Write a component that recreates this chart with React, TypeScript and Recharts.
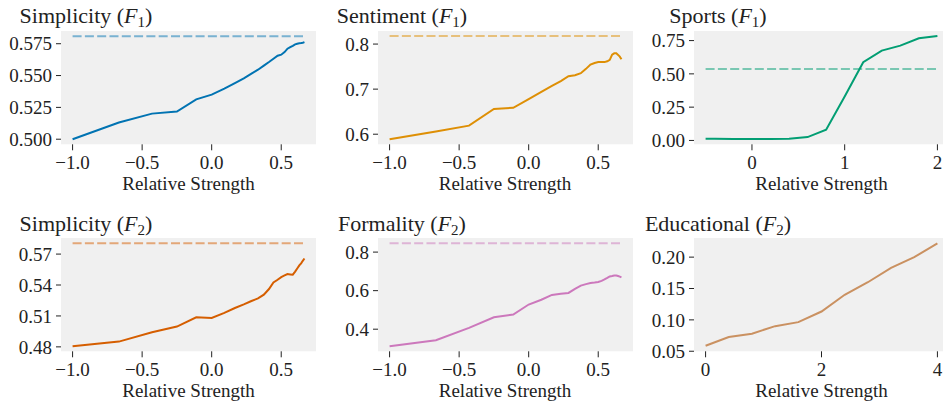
import React from "react";
import { LineChart, Line, XAxis, YAxis, CartesianGrid } from "recharts";

// relative strengths shared by the first five panels
const strengths = [
  -1, -0.667, -0.429, -0.25, -0.111, 0, 0.091, 0.167, 0.231, 0.286, 0.333, 0.375, 0.412,
  0.444, 0.474, 0.5, 0.524, 0.545, 0.565, 0.583, 0.6, 0.615, 0.63, 0.643, 0.655, 0.667,
];

const simplicityF1 = [
  0.5, 0.5131, 0.5201, 0.5217, 0.5313, 0.535, 0.5397, 0.5441, 0.5478, 0.5515, 0.5546, 0.5578,
  0.5606, 0.5632, 0.5656, 0.5664, 0.5684, 0.5711, 0.5723, 0.5734, 0.5745, 0.575, 0.5753,
  0.5755, 0.5758, 0.5763,
];
const sentimentF1 = [
  0.589, 0.606, 0.619, 0.6559, 0.6587, 0.678, 0.694, 0.707, 0.718, 0.7287, 0.731, 0.7353,
  0.745, 0.7545, 0.758, 0.7603, 0.76, 0.76, 0.7618, 0.765, 0.7766, 0.7795, 0.7795, 0.776,
  0.772, 0.7662,
];
const simplicityF2 = [
  0.4806, 0.4851, 0.4941, 0.4997, 0.5087, 0.5081, 0.5129, 0.5177, 0.5212, 0.5245, 0.527,
  0.5306, 0.5361, 0.5425, 0.5451, 0.5477, 0.5493, 0.5506, 0.5503, 0.55, 0.553, 0.556, 0.559,
  0.561, 0.5635, 0.5657,
];
const formalityF2 = [
  0.312, 0.343, 0.407, 0.462, 0.476, 0.528, 0.553, 0.578, 0.584, 0.588, 0.609, 0.626, 0.634,
  0.64, 0.642, 0.645, 0.651, 0.658, 0.666, 0.674, 0.676, 0.679, 0.679, 0.676, 0.673, 0.669,
];

const sportsStrengths = [-0.5, -0.4, -0.2, 0, 0.2, 0.4, 0.6, 0.8, 1.0, 1.2, 1.4, 1.6, 1.8, 2.0];
const sportsF1 = [0.012, 0.012, 0.011, 0.01, 0.011, 0.013, 0.025, 0.08, 0.33, 0.588, 0.675, 0.712, 0.767, 0.785];

const eduStrengths = [0, 0.4, 0.8, 1.2, 1.6, 2.0, 2.4, 2.8, 3.2, 3.6, 4.0];
const educationalF2 = [0.0587, 0.0726, 0.078, 0.09, 0.0964, 0.1133, 0.14, 0.16, 0.1829, 0.2, 0.2218];

// dashed reference levels
const simplicityF1Ref = 0.5809;
const sentimentF1Ref = 0.8177;
const sportsF1Ref = 0.537;
const simplicityF2Ref = 0.5806;
const formalityF2Ref = 0.8465;

const FONT = "Liberation Serif";
const INK = "#222";

const fmt = (d: number) => (v: number) => v.toFixed(d).replace("-", "\u2212");

type PanelProps = {
  xs: number[];
  ys: number[];
  refValue?: number;
  color: string;
  left: number;
  top: number;
  xDomain: [number, number];
  yDomain: [number, number];
  xTicks: number[];
  yTicks: number[];
  xDec: number;
  yDec: number;
};

function Panel({ xs, ys, refValue, color, left, top, xDomain, yDomain, xTicks, yTicks, xDec, yDec }: PanelProps) {
  const rows = xs.map((x, i) => ({ x, y: ys[i], ref: refValue }));
  const tickStyle = { fill: INK, fontSize: 19, fontFamily: FONT };
  return (
    <div style={{ position: "absolute", left, top }}>
      <LineChart width={316} height={200} data={rows} margin={{ top: 31, right: 0, bottom: 0, left: 0 }}>
        <CartesianGrid horizontal={false} vertical={false} fill="#f0f0f0" />
        <XAxis
          type="number"
          dataKey="x"
          domain={xDomain}
          allowDataOverflow
          ticks={xTicks}
          interval={0}
          axisLine={false}
          stroke={INK}
          tickSize={6}
          tickMargin={5}
          height={55.7}
          tick={tickStyle}
          tickFormatter={fmt(xDec)}
        />
        <YAxis
          type="number"
          domain={yDomain}
          allowDataOverflow
          ticks={yTicks}
          interval={0}
          axisLine={false}
          stroke={INK}
          tickSize={5}
          tickMargin={4}
          width={61}
          tick={tickStyle}
          tickFormatter={fmt(yDec)}
        />
        {refValue !== undefined && (
          <Line
            type="linear"
            dataKey="ref"
            stroke={color}
            strokeOpacity={0.5}
            strokeWidth={2}
            strokeDasharray="9 3.3"
            dot={false}
            isAnimationActive={false}
          />
        )}
        <Line type="linear" dataKey="y" stroke={color} strokeWidth={2} dot={false} isAnimationActive={false} />
      </LineChart>
    </div>
  );
}

const titles = [
  { name: "Simplicity", sub: "1", x: 86, y: 23 },
  { name: "Sentiment", sub: "1", x: 402, y: 23 },
  { name: "Sports", sub: "1", x: 718, y: 23 },
  { name: "Simplicity", sub: "2", x: 86, y: 231 },
  { name: "Formality", sub: "2", x: 402, y: 231 },
  { name: "Educational", sub: "2", x: 718, y: 231 },
];
const labelXs = [188.5, 505, 821.5];
const labelYs = [190, 396.5];

const strengthDomain: [number, number] = [-1.0833, 0.75];
const strengthTicks = [-1, -0.5, 0, 0.5];

export default function App() {
  return (
    <div style={{ position: "absolute", left: 0, top: 0, width: 943, height: 402, overflow: "hidden", background: "#fff", fontFamily: FONT }}>
      <Panel xs={strengths} ys={simplicityF1} refValue={simplicityF1Ref} color="#0173b2" left={0} top={0}
        xDomain={strengthDomain} yDomain={[0.496, 0.585]} xTicks={strengthTicks} yTicks={[0.5, 0.525, 0.55, 0.575]} xDec={1} yDec={3} />
      <Panel xs={strengths} ys={sentimentF1} refValue={sentimentF1Ref} color="#de8f05" left={316.5} top={0}
        xDomain={strengthDomain} yDomain={[0.5776, 0.829]} xTicks={strengthTicks} yTicks={[0.6, 0.7, 0.8]} xDec={1} yDec={1} />
      <Panel xs={sportsStrengths} ys={sportsF1} refValue={sportsF1Ref} color="#029e73" left={633} top={0}
        xDomain={[-0.625, 2.125]} yDomain={[-0.029, 0.822]} xTicks={[0, 1, 2]} yTicks={[0, 0.25, 0.5, 0.75]} xDec={0} yDec={2} />
      <Panel xs={strengths} ys={simplicityF2} refValue={simplicityF2Ref} color="#d55e00" left={0} top={207.3}
        xDomain={strengthDomain} yDomain={[0.4757, 0.5856]} xTicks={strengthTicks} yTicks={[0.48, 0.51, 0.54, 0.57]} xDec={1} yDec={2} />
      <Panel xs={strengths} ys={formalityF2} refValue={formalityF2Ref} color="#cc78bc" left={316.5} top={207.3}
        xDomain={strengthDomain} yDomain={[0.2853, 0.8732]} xTicks={strengthTicks} yTicks={[0.4, 0.6, 0.8]} xDec={1} yDec={1} />
      <Panel xs={eduStrengths} ys={educationalF2} color="#ca9161" left={633} top={207.3}
        xDomain={[-0.2, 4.2]} yDomain={[0.0499, 0.2305]} xTicks={[0, 2, 4]} yTicks={[0.05, 0.1, 0.15, 0.2]} xDec={0} yDec={2} />

      <svg width={943} height={402} style={{ position: "absolute", left: 0, top: 0, pointerEvents: "none", fontFamily: FONT }}>
        {titles.map((t, i) => (
          <text key={i} x={t.x} y={t.y} textAnchor="middle" fontFamily={FONT} fontSize={22} fill={INK}>
            {t.name + " ("}
            <tspan fontStyle="italic">F</tspan>
            <tspan fontSize={15} dy={4}>{t.sub}</tspan>
            <tspan dy={-4}>)</tspan>
          </text>
        ))}
        {labelYs.map((ly) =>
          labelXs.map((lx) => (
            <text key={`${lx}-${ly}`} x={lx} y={ly} textAnchor="middle" fontFamily={FONT} fontSize={19} fill={INK}>
              Relative Strength
            </text>
          ))
        )}
      </svg>
    </div>
  );
}
